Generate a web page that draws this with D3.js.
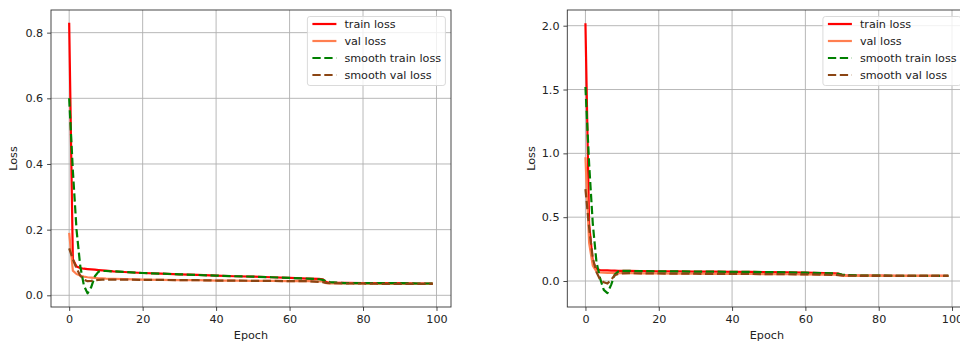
<!DOCTYPE html>
<html>
<head>
<meta charset="utf-8">
<script src="https://cdn.jsdelivr.net/npm/d3@7/dist/d3.min.js"></script>
<style>
  html, body { margin: 0; padding: 0; background: #fff; }
  svg { display: block; }
  text { font-family: "DejaVu Sans", sans-serif; }
</style>
</head>
<body>
<svg id="chart" width="960" height="342"></svg>
<script>
// ---- data ----
const epochs = [0,1,2,3,4,5,6,7,8,9,10,12,15,20,25,30,35,40,45,50,55,60,65,68,69,70,71,75,80,85,90,95,99];

// left panel
const trainLossL = [0.83,0.11,0.088,0.083,0.081,0.080,0.079,0.078,0.077,0.076,0.075,0.073,0.071,0.068,0.066,0.064,0.062,0.060,0.058,0.057,0.055,0.053,0.051,0.050,0.049,0.040,0.038,0.038,0.037,0.037,0.037,0.036,0.036];
const valLossL = [0.19,0.075,0.065,0.060,0.057,0.055,0.054,0.053,0.052,0.052,0.051,0.050,0.049,0.048,0.047,0.046,0.046,0.045,0.045,0.044,0.044,0.043,0.043,0.042,0.042,0.037,0.036,0.036,0.036,0.035,0.035,0.035,0.035];
const smoothTrainL = [0.60,0.38,0.20,0.09,0.03,0.006,0.025,0.058,0.072,0.074,0.074,0.073,0.071,0.068,0.066,0.064,0.062,0.060,0.058,0.057,0.055,0.053,0.051,0.049,0.047,0.043,0.040,0.037,0.037,0.037,0.037,0.036,0.036];
const smoothValL = [0.143,0.11,0.082,0.06,0.048,0.043,0.044,0.046,0.047,0.048,0.048,0.048,0.048,0.047,0.047,0.046,0.046,0.045,0.045,0.044,0.044,0.043,0.043,0.041,0.040,0.038,0.037,0.036,0.036,0.035,0.035,0.035,0.035];

// right panel
const trainLossR = [2.02,0.45,0.15,0.092,0.086,0.084,0.083,0.082,0.081,0.080,0.080,0.079,0.078,0.076,0.075,0.074,0.073,0.072,0.071,0.070,0.068,0.065,0.062,0.060,0.058,0.046,0.044,0.043,0.042,0.041,0.041,0.040,0.040];
const valLossR = [0.97,0.30,0.12,0.075,0.068,0.065,0.064,0.063,0.062,0.062,0.061,0.061,0.060,0.059,0.058,0.057,0.056,0.056,0.055,0.054,0.053,0.052,0.050,0.049,0.048,0.042,0.041,0.041,0.040,0.040,0.040,0.040,0.040];
const smoothTrainR = [1.52,0.92,0.45,0.15,0.02,-0.07,-0.095,-0.03,0.05,0.075,0.080,0.079,0.078,0.076,0.075,0.074,0.073,0.072,0.071,0.070,0.068,0.065,0.062,0.059,0.056,0.051,0.047,0.043,0.042,0.041,0.041,0.040,0.040];
const smoothValR = [0.72,0.42,0.18,0.07,0.01,-0.01,-0.02,0.01,0.045,0.055,0.060,0.061,0.060,0.059,0.058,0.057,0.056,0.056,0.055,0.054,0.053,0.052,0.050,0.048,0.046,0.044,0.042,0.041,0.040,0.040,0.040,0.040,0.040];

const seriesNames = ["train loss", "val loss", "smooth train loss", "smooth val loss"];
const seriesColors = ["#ff0000", "#ff7f50", "#008000", "#8B4513"];
const seriesDashed = [false, false, true, true];

const xTicks = [0, 20, 40, 60, 80, 100];
const yTicksL = [0.0, 0.2, 0.4, 0.6, 0.8];
const yTicksR = [0.0, 0.5, 1.0, 1.5, 2.0];

const panels = [
  { left: 51, right: 451, yDomain: [-0.0356, 0.869], yTicks: yTicksL, yFmt: ".1f", ylabX: 13,
    series: [trainLossL, valLossL, smoothTrainL, smoothValL] },
  { left: 567.3, right: 966.5, yDomain: [-0.2036, 2.123], yTicks: yTicksR, yFmt: ".1f", ylabX: 531,
    series: [trainLossR, valLossR, smoothTrainR, smoothValR] }
];

const plotTop = 10, plotBottom = 307;
const fs = 11.2;
const svg = d3.select("#chart");

panels.forEach((p, pi) => {
  const x = d3.scaleLinear().domain([-4.95, 103.95]).range([p.left, p.right]);
  const y = d3.scaleLinear().domain(p.yDomain).range([plotBottom, plotTop]);
  const g = svg.append("g");

  const clipId = "clip" + pi;
  svg.append("clipPath").attr("id", clipId).append("rect")
    .attr("x", p.left).attr("y", plotTop).attr("width", p.right - p.left).attr("height", plotBottom - plotTop);

  // grid
  const grid = g.append("g");
  grid.selectAll(".gx").data(xTicks).join("line")
    .attr("x1", d => x(d)).attr("x2", d => x(d)).attr("y1", plotTop).attr("y2", plotBottom)
    .attr("stroke", "#b0b0b0").attr("stroke-width", 0.9);
  grid.selectAll(".gy").data(p.yTicks).join("line")
    .attr("x1", p.left).attr("x2", p.right).attr("y1", d => y(d)).attr("y2", d => y(d))
    .attr("stroke", "#b0b0b0").attr("stroke-width", 0.9);

  // lines
  const plot = g.append("g").attr("clip-path", `url(#${clipId})`);
  const line = d3.line().x((d, i) => x(epochs[i])).y(d => y(d));
  p.series.forEach((vals, si) => {
    plot.append("path").datum(vals)
      .attr("d", line)
      .attr("fill", "none")
      .attr("stroke", seriesColors[si])
      .attr("stroke-width", 2.2)
      .attr("stroke-linejoin", "round")
      .attr("stroke-dasharray", seriesDashed[si] ? "8.3,3.6" : null);
  });

  // spines
  g.append("rect").attr("x", p.left).attr("y", plotTop)
    .attr("width", p.right - p.left).attr("height", plotBottom - plotTop)
    .attr("fill", "none").attr("stroke", "#333").attr("stroke-width", 0.9);

  // axes
  const xAxis = d3.axisBottom(x).tickValues(xTicks).tickFormat(d3.format("d")).tickSize(3.9).tickPadding(3.9);
  const yAxis = d3.axisLeft(y).tickValues(p.yTicks).tickFormat(d3.format(p.yFmt)).tickSize(3.9).tickPadding(3.9);
  const gx = g.append("g").attr("transform", `translate(0,${plotBottom})`).call(xAxis);
  const gy = g.append("g").attr("transform", `translate(${p.left},0)`).call(yAxis);
  [gx, gy].forEach(a => {
    a.select(".domain").remove();
    a.selectAll(".tick line").attr("stroke", "#333").attr("stroke-width", 0.9);
    a.selectAll(".tick text").attr("fill", "#222").style("font-size", fs + "px")
      .style("font-family", "'DejaVu Sans', sans-serif");
  });

  // axis labels
  g.append("text").attr("x", (p.left + p.right) / 2).attr("y", 339)
    .attr("text-anchor", "middle").attr("fill", "#222").style("font-size", fs + "px").text("Epoch");
  g.append("text").attr("transform", `translate(${p.ylabX + 4},${(plotTop + plotBottom) / 2}) rotate(-90)`)
    .attr("text-anchor", "middle").attr("fill", "#222").style("font-size", fs + "px").text("Loss");

  // legend
  const lw = 138, lh = 69;
  const lx = p.right - 5.6 - lw, ly = plotTop + 6.5;
  const lg = g.append("g");
  lg.append("rect").attr("x", lx).attr("y", ly).attr("width", lw).attr("height", lh)
    .attr("rx", 2.5).attr("fill", "rgba(255,255,255,0.8)").attr("stroke", "#d6d6d6").attr("stroke-width", 0.9);
  seriesNames.forEach((name, si) => {
    const cy = ly + 7.5 + si * 17;
    lg.append("line").attr("x1", lx + 5).attr("x2", lx + 29).attr("y1", cy).attr("y2", cy)
      .attr("stroke", seriesColors[si]).attr("stroke-width", 2.2)
      .attr("stroke-dasharray", seriesDashed[si] ? "8.3,3.6" : null);
    lg.append("text").attr("x", lx + 37).attr("y", cy).attr("dy", "0.36em")
      .attr("fill", "#222").style("font-size", fs + "px").text(name);
  });
});
</script>
</body>
</html>
